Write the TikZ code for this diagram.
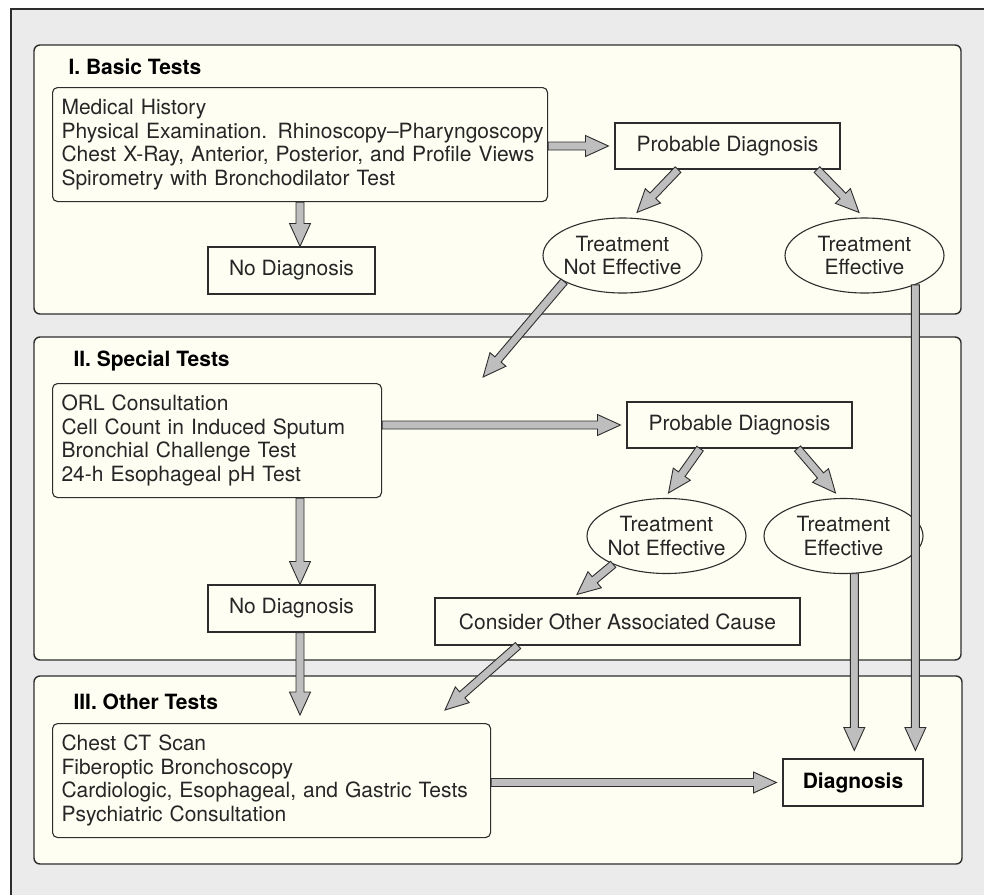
\documentclass[tikz,border=0pt]{standalone}
\usepackage{fontspec}
\setmainfont{TeX Gyre Heros}
\usetikzlibrary{calc, shapes.geometric}
\definecolor{framegray}{RGB}{235,235,235}
\definecolor{panelcream}{RGB}{254,254,243}
\definecolor{arrowgray}{RGB}{190,190,190}
\definecolor{linegray}{RGB}{45,45,45}
\newcommand{\boxfont}{\fontsize{21}{23.6}\selectfont}
\newcommand{\panelfont}{\fontsize{21}{24}\selectfont\bfseries}
% block arrow from #1 to #2 (coordinates without parentheses)
\newcommand{\fatarrow}[2]{%
	\coordinate (fa-s) at (#1);
	\coordinate (fa-e) at (#2);
	\coordinate (fa-h) at ($(fa-e)!23pt!(fa-s)$);
	\draw[fatarrow] ($(fa-s)!4pt!90:(fa-e)$) -- ($(fa-h)!4pt!-90:(fa-s)$)
	-- ($(fa-h)!10.5pt!-90:(fa-s)$) -- (fa-e) -- ($(fa-h)!10.5pt!90:(fa-s)$)
	-- ($(fa-h)!4pt!90:(fa-s)$) -- ($(fa-s)!4pt!-90:(fa-e)$) -- cycle;}

\begin{document}
\begin{tikzpicture}[x=1pt, y=-1pt,
	panel/.style={draw=linegray, line width=1.4pt, fill=panelcream, rounded corners=6pt},
	listbox/.style={draw=linegray, line width=1.1pt, rounded corners=5pt, align=left,
		anchor=north west, inner xsep=9pt, minimum height=114pt, font=\boxfont, text=black!85},
	plainbox/.style={draw=linegray, line width=1.1pt, fill=panelcream, inner sep=0pt,
		font=\boxfont, text=black!85},
	oval/.style={ellipse, draw=linegray, line width=1.1pt, align=center, inner xsep=-4pt,
		inner ysep=0pt, minimum width=159pt, minimum height=75pt, font=\boxfont, text=black!85},
	title/.style={anchor=base west, font=\panelfont},
	fatarrow/.style={draw=linegray, fill=arrowgray, line width=0.9pt, line join=miter}]
	\useasboundingbox (0,0) rectangle (984,894);
	%--- frame ---
	\fill[framegray] (11,9) rectangle (990,900);
	\draw[linegray, line width=1.4pt] (990,9) -- (11,9) -- (11,900);
	\draw[panel] (34,45) rectangle (961,314);
	\draw[panel] (34,337) rectangle (961,660);
	\draw[panel] (34,676) rectangle (962,864);
	\node[title] (t1) at (65,74) {I. Basic Tests};
	\node[title] (t2) at (70,366) {II. Special Tests};
	\node[title] (t3) at (70,709) {III. Other Tests};
	%--- I. Basic Tests ---
	\node[listbox, text width=477pt] (box1) at (52,87)
	{Medical History\\\mbox{Physical Examination. Rhinoscopy--Pharyngoscopy}\\
		\mbox{Chest X-Ray, Anterior, Posterior, and Profile Views}\\Spirometry with Bronchodilator Test};
	\node[plainbox, minimum width=225pt, minimum height=46pt] (pd1) at (727.5,146) {Probable Diagnosis};
	\node[plainbox, minimum width=167pt, minimum height=47pt] (nd1) at (291.5,270.5) {No Diagnosis};
	\node[oval] (tne1) at (622.5,255.5) {Treatment\\Not Effective};
	\node[oval] (te1) at (864.5,255.5) {Treatment\\Effective};
	%--- II. Special Tests ---
	\node[listbox, text width=311pt] (box2) at (52,383)
	{ORL Consultation\\Cell Count in Induced Sputum\\Bronchial Challenge Test\\24-h Esophageal pH Test};
	\node[plainbox, minimum width=225pt, minimum height=46pt] (pd2) at (739.5,425) {Probable Diagnosis};
	\node[plainbox, minimum width=167pt, minimum height=47pt] (nd2) at (291.5,608.5) {No Diagnosis};
	\node[oval] (tne2) at (666.5,536) {Treatment\\Not Effective};
	\node[oval] (te2) at (843.5,536) {Treatment\\Effective};
	\node[plainbox, minimum width=365pt, minimum height=47pt] (cons) at (617.5,621.5)
	{Consider Other Associated Cause};
	%--- III. Other Tests ---
	\node[listbox, text width=420pt] (box3) at (52,723)
	{Chest CT Scan\\Fiberoptic Bronchoscopy\\\mbox{Cardiologic, Esophageal, and Gastric Tests}\\
		Psychiatric Consultation};
	\node[plainbox, minimum width=140pt, minimum height=47pt, font=\boxfont\bfseries, text=black]
	(diag) at (853,782.5) {Diagnosis};
	%--- arrows ---
	\coordinate (a1) at ([xshift=8.5pt]nd1.north);
	\coordinate (a2) at ([xshift=8.5pt]nd2.north);
	\coordinate (a3) at ([yshift=8pt]box3.north -| a2);
	\coordinate (d1) at (te1.-30.8 |- diag.north);
	\coordinate (d2) at (te2.-74.2 |- diag.north);
	\fatarrow{box1.east |- pd1.west}{[xshift=-6pt]pd1.west}
	\fatarrow{box1.south -| a1}{a1}
	\fatarrow{[xshift=-49.5pt]pd1.south}{[xshift=14.5pt,yshift=5pt]tne1.north}
	\fatarrow{[xshift=89.5pt]pd1.south}{[xshift=-5.5pt,yshift=5pt]te1.north}
	\fatarrow{tne1.204}{[xshift=101pt,yshift=6pt]box2.north east}
	\fatarrow{box2.east |- pd2.west}{[xshift=-6pt]pd2.west}
	\fatarrow{box2.south -| a2}{a2}
	\fatarrow{[xshift=-39.5pt]pd2.south}{[xshift=2pt,yshift=5pt]tne2.north}
	\fatarrow{[xshift=58pt]pd2.south}{[xshift=-8pt,yshift=5pt]te2.north}
	\fatarrow{tne2.208}{[xshift=-40.5pt,yshift=3pt]cons.north}
	\fatarrow{[xshift=-99.5pt]cons.south}{[xshift=393pt,yshift=13pt]box3.north west}
	\fatarrow{nd2.south -| a3}{a3}
	\fatarrow{box3.east |- diag.west}{[xshift=-6pt]diag.west}
	\fatarrow{te1.-30.8}{[yshift=8pt]d1}
	\fatarrow{te2.-74.2}{[yshift=8pt]d2}
\end{tikzpicture}
\end{document}
